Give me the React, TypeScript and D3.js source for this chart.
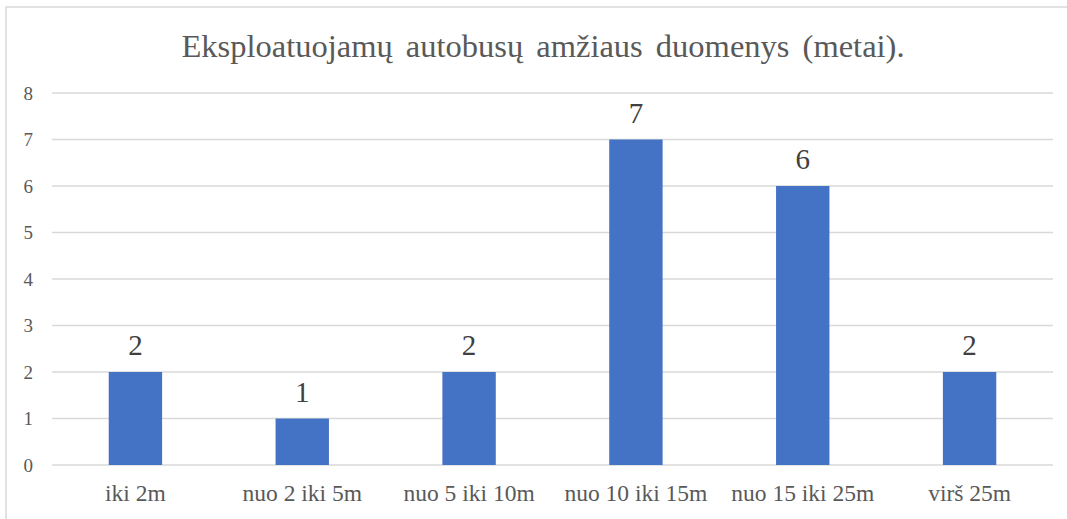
import React from "react";
import * as d3 from "d3";

const categories = ["iki 2m", "nuo 2 iki 5m", "nuo 5 iki 10m", "nuo 10 iki 15m", "nuo 15 iki 25m", "virš 25m"];
const values = [2, 1, 2, 7, 6, 2];
const yTicks = [0, 1, 2, 3, 4, 5, 6, 7, 8];
const title = "Eksploatuojamų autobusų amžiaus duomenys (metai).";

const W = 1067;
const H = 519;
const plot = { left: 52, right: 1053, top: 93, bottom: 465 };
const FONT = "Liberation Serif, Tinos, Times New Roman, DejaVu Serif, serif";
const TEXT = "#595959";

export default function App() {
  const x = d3.scaleBand<string>().domain(categories).range([plot.left, plot.right]).paddingInner(0.68).paddingOuter(0.34);
  const y = d3.scaleLinear().domain([0, 8]).range([plot.bottom, plot.top]);
  const bw = x.bandwidth();

  return (
    <div style={{ position: "fixed", left: 0, top: 0 }}>
      <svg width={W} height={H} style={{ display: "block", background: "#fff", fontFamily: FONT }}>
        <rect x={6} y={7} width={1200} height={700} fill="#fff" stroke="#d9d9d9" strokeWidth={1.5} />
        <text x={543} y={57} textAnchor="middle" style={{ fontFamily: FONT }} fontSize={32.5} fill={TEXT} wordSpacing={5}>
          {title}
        </text>
        {yTicks.map((t) => (
          <g key={t}>
            <line x1={plot.left} x2={plot.right} y1={y(t)} y2={y(t)} stroke="#d9d9d9" strokeWidth={1.5} />
            <text x={33} y={y(t) + 6.5} textAnchor="end" style={{ fontFamily: FONT }} fontSize={19} fill={TEXT}>
              {t}
            </text>
          </g>
        ))}
        {categories.map((c, i) => (
          <g key={c}>
            <rect x={x(c)!} y={y(values[i])} width={bw} height={y(0) - y(values[i])} fill="#4472c4" />
            <text x={x(c)! + bw / 2} y={y(values[i]) - 17} textAnchor="middle" style={{ fontFamily: FONT }} fontSize={29} fill="#404040">
              {values[i]}
            </text>
            <text x={x(c)! + bw / 2} y={501} textAnchor="middle" style={{ fontFamily: FONT }} fontSize={23.5} fill={TEXT}>
              {c}
            </text>
          </g>
        ))}
      </svg>
    </div>
  );
}
